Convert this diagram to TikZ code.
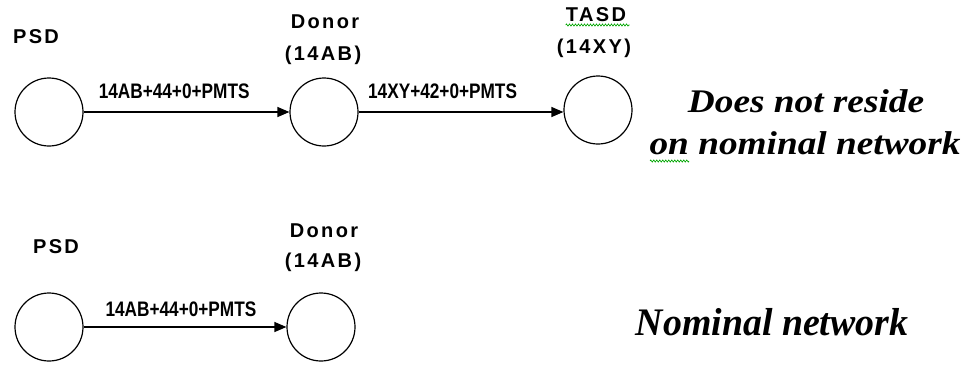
\documentclass[tikz,border=0pt]{standalone}
\usepackage{fontspec}
\usepackage{graphicx}
\setmainfont{Liberation Serif}
\newfontfamily\tagfont{Liberation Sans}[LetterSpace=12]
\newfontfamily\arcfont{Liberation Sans}
\usetikzlibrary{arrows.meta,decorations.pathmorphing}
\newcommand{\squeezed}[2]{\scalebox{#1}[1]{#2}}
\tikzset{
  site/.style={circle, draw, line width=1.2pt, minimum size=68pt, inner sep=0pt},
  flow/.style={line width=1.2pt, -{Triangle[length=12pt,width=10pt]}},
  tag/.style={font=\tagfont\bfseries\fontsize{20}{22}\selectfont, anchor=base, inner sep=0pt},
  arclabel/.style={font=\arcfont\bfseries\fontsize{21}{23}\selectfont, inner sep=0pt},
  remark/.style={font=\bfseries\itshape\fontsize{33}{36}\selectfont, anchor=base, inner sep=0pt},
  bigremark/.style={font=\bfseries\itshape\fontsize{39}{42}\selectfont, anchor=base, inner sep=0pt},
  spell/.style={draw=green!65!black, line width=0.6pt,
    decorate, decoration={zigzag, amplitude=1.1pt, segment length=3pt}}
}
\begin{document}
\begin{tikzpicture}[x=1pt,y=-1pt]
  \useasboundingbox (0,0) rectangle (976,365);

  % upper chain: PSD -> Donor -> TASD
  \node[site] (psdA)   at (49,112) {};
  \node[site] (donorA) at (324,112) {};
  \node[site] (tasdA)  at (598,110) {};
  \node[tag]  (psdAtag)   at (36,43)  {PSD};
  \node[tag]  (donorAtag) at (325,28) {Donor};
  \node[tag]  (donorAid)  at (323,60) {(14AB)};
  \node[tag]  (tasdAtag)  at (596,21) {TASD};
  \node[tag]  (tasdAid)   at (594,53) {(14XY)};
  \draw[flow] (psdA) -- node[arclabel, above=12.5pt, pos=0.44] (arcA1) {\squeezed{0.82}{14AB+44+0+PMTS}} (donorA.west |- psdA);
  \draw[flow] (donorA) -- node[arclabel, above=12.5pt, pos=0.41] (arcA2) {\squeezed{0.82}{14XY+42+0+PMTS}} (tasdA.west |- donorA);
  \node[remark] (remarkA1) at (806,112) {\squeezed{1.13}{Does not reside}};
  \node[remark] (remarkA2) at (805,154) {\squeezed{1.13}{on nominal network}};

  % lower chain: PSD -> Donor
  \node[site] (psdB)   at (49,327) {};
  \node[site] (donorB) at (321,327) {};
  \node[tag]  (psdBtag)   at (56,253) {PSD};
  \node[tag]  (donorBtag) at (324,237) {Donor};
  \node[tag]  (donorBid)  at (323,267) {(14AB)};
  \draw[flow] (psdB) -- node[arclabel, above=10pt, pos=0.48] (arcB1) {\squeezed{0.82}{14AB+44+0+PMTS}} (donorB.west |- psdB);
  \node[bigremark] (remarkB) at (772,335) {\squeezed{0.97}{Nominal network}};

  % proofing marks
  \draw[spell] (tasdAtag.base west) ++(0,4) -- ++(64,0);
  \draw[spell] (650,161) -- (689,161);
\end{tikzpicture}
\end{document}
